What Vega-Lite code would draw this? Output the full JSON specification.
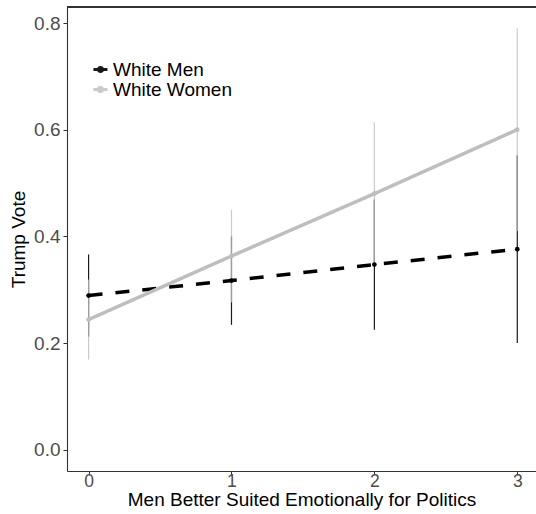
{
  "$schema": "https://vega.github.io/schema/vega-lite/v6.json",
  "autosize": {"type": "none"},
  "width": 469,
  "height": 464,
  "padding": {"left": 67, "top": 7, "right": 0, "bottom": 43},
  "background": "white",
  "config": {
    "view": {"stroke": null},
    "font": "Liberation Sans",
    "axis": {
      "grid": false,
      "domainColor": "#333333",
      "domainWidth": 1.1,
      "tickColor": "#333333",
      "tickSize": 4,
      "labelFontSize": 19,
      "labelColor": "#4d4d4d",
      "titleFontSize": 19,
      "titleColor": "#000000",
      "titleFontWeight": "normal",
      "labelFont": "Liberation Sans",
      "titleFont": "Liberation Sans"
    }
  },
  "data": {
    "values": [
      {"group": "White Men", "x": 0, "y": 0.289, "lo": 0.212, "hi": 0.366},
      {"group": "White Men", "x": 1, "y": 0.317, "lo": 0.234, "hi": 0.400},
      {"group": "White Men", "x": 2, "y": 0.347, "lo": 0.225, "hi": 0.469},
      {"group": "White Men", "x": 3, "y": 0.376, "lo": 0.200, "hi": 0.552},
      {"group": "White Women", "x": 0, "y": 0.244, "lo": 0.169, "hi": 0.319},
      {"group": "White Women", "x": 1, "y": 0.363, "lo": 0.276, "hi": 0.450},
      {"group": "White Women", "x": 2, "y": 0.480, "lo": 0.346, "hi": 0.614},
      {"group": "White Women", "x": 3, "y": 0.600, "lo": 0.410, "hi": 0.790}
    ]
  },
  "layer": [
    {
      "mark": {"type": "rule", "strokeWidth": 1.2},
      "encoding": {
        "x": {
          "field": "x",
          "type": "quantitative",
          "scale": {"domain": [-0.151, 3.131], "nice": false, "zero": false},
          "axis": {"values": [0, 1, 2, 3], "format": "d", "title": "Men Better Suited Emotionally for Politics", "labelFontSize": 17.5, "labelPadding": -3, "titlePadding": 1}
        },
        "y": {
          "field": "lo",
          "type": "quantitative",
          "scale": {"domain": [-0.04, 0.83], "nice": false, "zero": false},
          "axis": {"values": [0, 0.2, 0.4, 0.6, 0.8], "format": ".1f", "title": "Trump Vote", "labelPadding": 3, "titlePadding": 5}
        },
        "y2": {"field": "hi"},
        "color": {
          "field": "group",
          "type": "nominal",
          "scale": {"domain": ["White Men", "White Women"], "range": ["#000000", "#bebebe"]},
          "legend": {
            "title": null,
            "orient": "none",
            "legendX": 24,
            "legendY": 53,
            "padding": 0,
            "rowPadding": -3,
            "labelFontSize": 19,
            "labelColor": "#000000",
            "labelFont": "Liberation Sans",
            "labelOffset": 3,
            "symbolType": "M-1,0H1M-0.3,0a0.3,0.3 0 1,0 0.6,0a0.3,0.3 0 1,0 -0.6,0",
            "symbolStrokeWidth": 3,
            "symbolSize": 200
          }
        },
        "opacity": {
          "field": "group",
          "type": "nominal",
          "scale": {"domain": ["White Men", "White Women"], "range": [0.9, 0.8]},
          "legend": null
        }
      }
    },
    {
      "mark": {"type": "line", "strokeWidth": 3.5, "strokeCap": "butt"},
      "encoding": {
        "x": {"field": "x", "type": "quantitative"},
        "y": {"field": "y", "type": "quantitative"},
        "color": {"field": "group", "type": "nominal"},
        "strokeDash": {
          "field": "group",
          "type": "nominal",
          "scale": {"domain": ["White Men", "White Women"], "range": [[14, 13], [1, 0]]},
          "legend": null
        }
      }
    },
    {
      "mark": {"type": "point", "filled": true, "size": 22, "opacity": 1},
      "encoding": {
        "x": {"field": "x", "type": "quantitative"},
        "y": {"field": "y", "type": "quantitative"},
        "color": {"field": "group", "type": "nominal"}
      }
    },
    {
      "mark": {"type": "rule", "color": "#333333", "strokeWidth": 1.1},
      "encoding": {"y": {"datum": 0.83}}
    }
  ]
}
